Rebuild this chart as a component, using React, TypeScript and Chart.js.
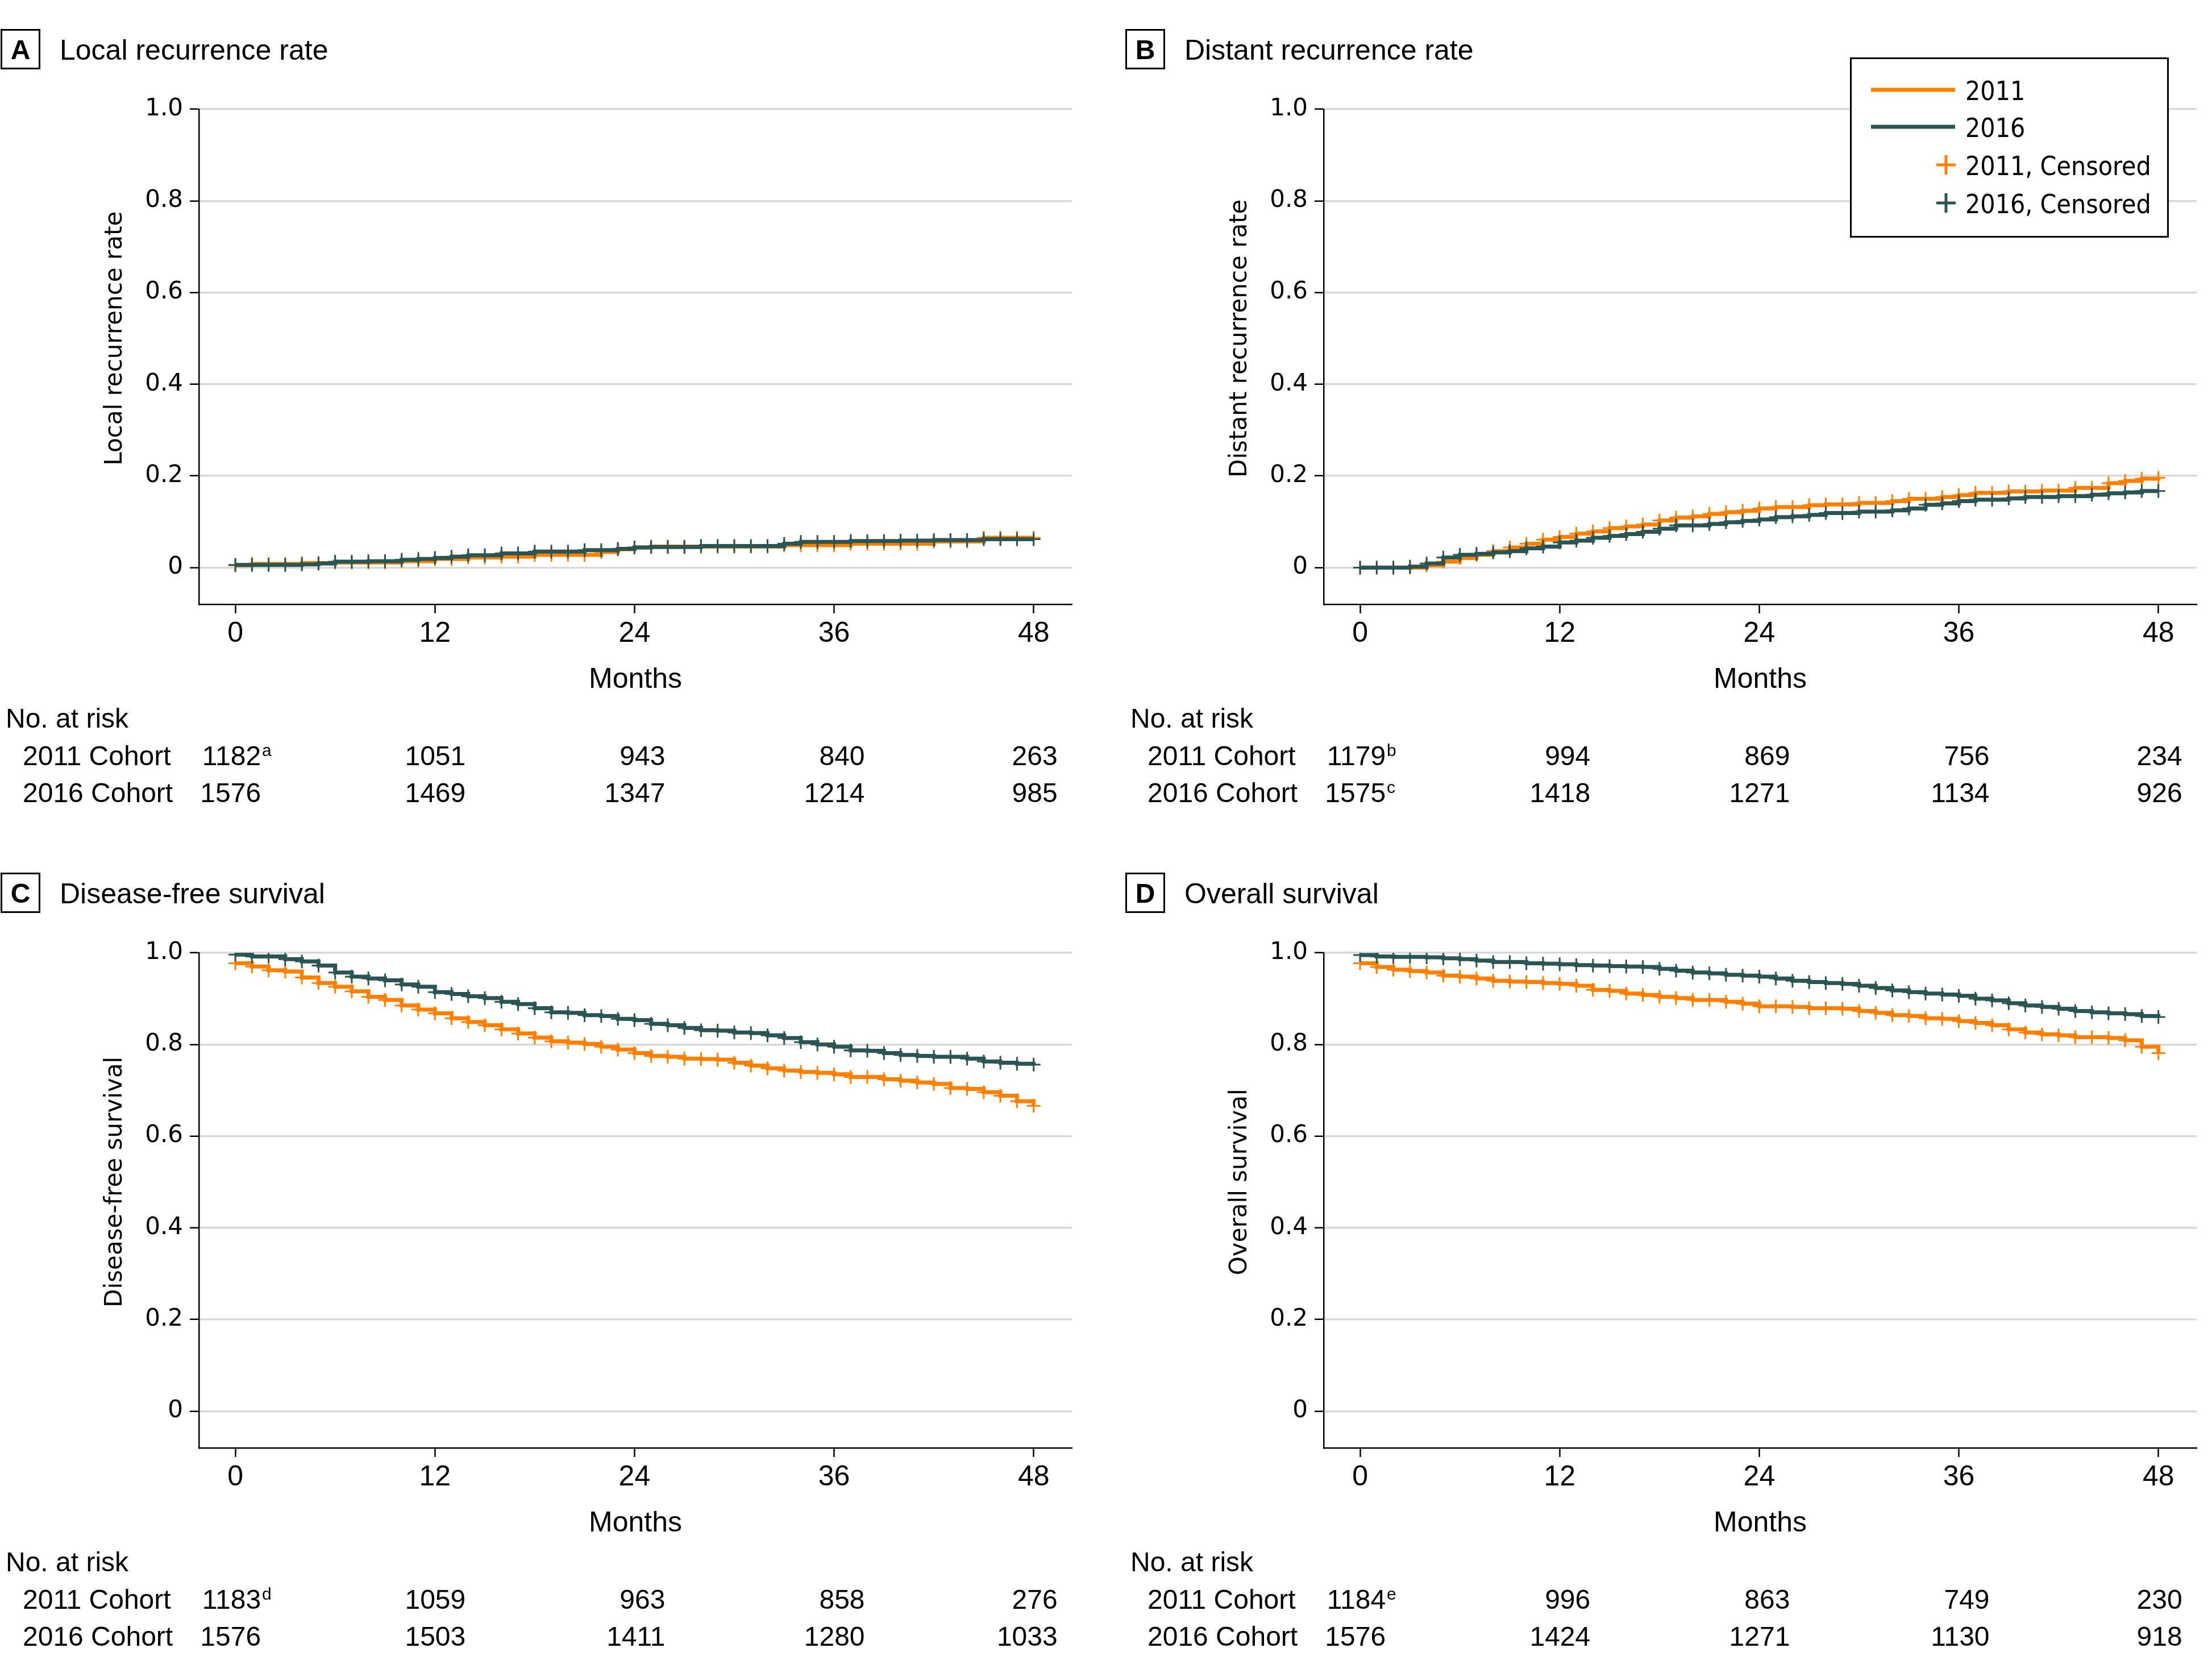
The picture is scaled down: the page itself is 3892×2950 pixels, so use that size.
import React, { useEffect, useRef } from "react";
import { Chart, registerables } from "chart.js";

Chart.register(...registerables);

// ---------- data ----------
const MONTHS = [
  0, 1, 2, 3, 4, 5, 6, 7, 8, 9, 10, 11, 12, 13, 14, 15, 16, 17, 18, 19, 20, 21, 22, 23, 24,
  25, 26, 27, 28, 29, 30, 31, 32, 33, 34, 35, 36, 37, 38, 39, 40, 41, 42, 43, 44, 45, 46, 47, 48,
];
const CENSOR_MONTHS = [
  0, 1, 2, 3, 4, 5, 6, 7, 8, 9, 10, 11, 12, 13, 14, 15, 16, 17, 18, 19, 20, 21, 22, 23, 24,
  25, 26, 27, 28, 29, 30, 31, 32, 33, 34, 35, 36, 37, 38, 39, 40, 41, 42, 43, 44, 45, 46, 47, 48,
];
const X_TICKS = [0, 12, 24, 36, 48];
const Y_TICKS = [0, 0.2, 0.4, 0.6, 0.8, 1.0];
const LEGEND_LABELS = ["2011", "2016", "2011, Censored", "2016, Censored"];
const ROW_LABELS = ["2011 Cohort", "2016 Cohort"];

// A. Local recurrence rate
const LOCAL_2011 = [
  0.005, 0.008, 0.008, 0.008, 0.010, 0.010, 0.011, 0.011, 0.011, 0.011, 0.014, 0.014, 0.019,
  0.019, 0.022, 0.022, 0.024, 0.024, 0.028, 0.028, 0.028, 0.028, 0.034, 0.040, 0.044, 0.046,
  0.046, 0.046, 0.046, 0.046, 0.046, 0.046, 0.046, 0.049, 0.049, 0.049, 0.049, 0.052, 0.052,
  0.052, 0.052, 0.052, 0.057, 0.057, 0.057, 0.065, 0.065, 0.065, 0.065,
];
const LOCAL_2016 = [
  0.006, 0.006, 0.006, 0.006, 0.007, 0.009, 0.013, 0.013, 0.014, 0.014, 0.017, 0.019, 0.021,
  0.024, 0.027, 0.027, 0.031, 0.031, 0.035, 0.035, 0.035, 0.038, 0.038, 0.041, 0.044, 0.045,
  0.045, 0.045, 0.047, 0.047, 0.047, 0.047, 0.047, 0.052, 0.056, 0.056, 0.056, 0.058, 0.058,
  0.058, 0.059, 0.059, 0.060, 0.060, 0.060, 0.062, 0.062, 0.062, 0.062,
];
// B. Distant recurrence rate
const DISTANT_2011 = [
  0, 0, 0, 0, 0.005, 0.013, 0.021, 0.028, 0.036, 0.044, 0.052, 0.061, 0.067, 0.074, 0.079,
  0.086, 0.090, 0.094, 0.103, 0.109, 0.112, 0.117, 0.121, 0.124, 0.129, 0.132, 0.132, 0.136,
  0.138, 0.138, 0.141, 0.141, 0.145, 0.150, 0.150, 0.154, 0.158, 0.163, 0.163, 0.166, 0.166,
  0.168, 0.168, 0.174, 0.174, 0.184, 0.189, 0.194, 0.196,
];
const DISTANT_2016 = [
  0, 0, 0, 0.002, 0.009, 0.022, 0.028, 0.030, 0.033, 0.036, 0.042, 0.046, 0.055, 0.059, 0.065,
  0.069, 0.073, 0.078, 0.085, 0.092, 0.092, 0.095, 0.099, 0.102, 0.105, 0.110, 0.112, 0.115,
  0.119, 0.119, 0.122, 0.122, 0.125, 0.129, 0.137, 0.140, 0.145, 0.148, 0.148, 0.151, 0.154,
  0.154, 0.156, 0.156, 0.159, 0.162, 0.164, 0.167, 0.167,
];
// C. Disease-free survival
const DFS_2011 = [
  0.977, 0.970, 0.962, 0.959, 0.946, 0.934, 0.926, 0.916, 0.904, 0.897, 0.885, 0.876, 0.868,
  0.857, 0.849, 0.842, 0.833, 0.824, 0.815, 0.807, 0.804, 0.801, 0.795, 0.789, 0.781, 0.775,
  0.773, 0.769, 0.768, 0.767, 0.760, 0.754, 0.748, 0.743, 0.740, 0.738, 0.735, 0.729, 0.729,
  0.724, 0.721, 0.717, 0.714, 0.705, 0.703, 0.696, 0.688, 0.676, 0.666,
];
const DFS_2016 = [
  0.996, 0.992, 0.992, 0.986, 0.981, 0.972, 0.957, 0.948, 0.944, 0.940, 0.931, 0.926, 0.914,
  0.910, 0.905, 0.901, 0.893, 0.888, 0.879, 0.870, 0.869, 0.864, 0.862, 0.856, 0.853, 0.845,
  0.842, 0.836, 0.831, 0.830, 0.826, 0.825, 0.820, 0.814, 0.805, 0.800, 0.795, 0.787, 0.786,
  0.781, 0.777, 0.775, 0.773, 0.773, 0.769, 0.763, 0.760, 0.758, 0.756,
];
// D. Overall survival
const OS_2011 = [
  0.977, 0.969, 0.963, 0.960, 0.957, 0.950, 0.948, 0.944, 0.939, 0.937, 0.936, 0.934, 0.932,
  0.928, 0.919, 0.917, 0.911, 0.908, 0.904, 0.901, 0.897, 0.897, 0.893, 0.889, 0.883, 0.883,
  0.882, 0.879, 0.879, 0.878, 0.873, 0.869, 0.864, 0.862, 0.857, 0.856, 0.851, 0.847, 0.842,
  0.833, 0.826, 0.822, 0.820, 0.816, 0.816, 0.814, 0.809, 0.795, 0.781,
];
const OS_2016 = [
  0.995, 0.992, 0.991, 0.991, 0.990, 0.988, 0.986, 0.983, 0.980, 0.980, 0.977, 0.976, 0.975,
  0.973, 0.972, 0.971, 0.970, 0.969, 0.965, 0.961, 0.957, 0.955, 0.952, 0.950, 0.948, 0.944,
  0.939, 0.936, 0.934, 0.932, 0.928, 0.923, 0.918, 0.914, 0.911, 0.909, 0.906, 0.900, 0.896,
  0.890, 0.885, 0.882, 0.878, 0.873, 0.870, 0.868, 0.866, 0.862, 0.860,
];

// Numbers at risk (at X_TICKS)
const RISK_LOCAL_2011 = ["1182", "1051", "943", "840", "263"];
const RISK_LOCAL_2016 = ["1576", "1469", "1347", "1214", "985"];
const RISK_DISTANT_2011 = ["1179", "994", "869", "756", "234"];
const RISK_DISTANT_2016 = ["1575", "1418", "1271", "1134", "926"];
const RISK_DFS_2011 = ["1183", "1059", "963", "858", "276"];
const RISK_DFS_2016 = ["1576", "1503", "1411", "1280", "1033"];
const RISK_OS_2011 = ["1184", "996", "863", "749", "230"];
const RISK_OS_2016 = ["1576", "1424", "1271", "1130", "918"];

// ---------- styling ----------
const COLOR_2011 = "#ff8000";
const COLOR_2016 = "#2a5552";
const GRID = "#d9d9d9";
const SANS = "'Liberation Sans', Arial, sans-serif";
const DEJAVU = "'DejaVu Sans', sans-serif";
const DEJAVU_COND = "'DejaVu Sans Condensed', 'DejaVu Sans', sans-serif";

const W = 1913;
const H = 1466;
const RISK_OFFSETS = [45, 54, 54, 54, 42];

type PanelCfg = {
  letter: string;
  title: string;
  yTitle: string;
  s2011: number[];
  s2016: number[];
  r2011: string[];
  r2016: string[];
  n2011: string;
  n2016: string;
  legend: boolean;
  left: number;
  top: number;
};

const PANELS: PanelCfg[] = [
  { letter: "A", title: "Local recurrence rate", yTitle: "Local recurrence rate", s2011: LOCAL_2011, s2016: LOCAL_2016, r2011: RISK_LOCAL_2011, r2016: RISK_LOCAL_2016, n2011: "a", n2016: "", legend: false, left: 0, top: 0 },
  { letter: "B", title: "Distant recurrence rate", yTitle: "Distant recurrence rate", s2011: DISTANT_2011, s2016: DISTANT_2016, r2011: RISK_DISTANT_2011, r2016: RISK_DISTANT_2016, n2011: "b", n2016: "c", legend: true, left: 1979, top: 0 },
  { letter: "C", title: "Disease-free survival", yTitle: "Disease-free survival", s2011: DFS_2011, s2016: DFS_2016, r2011: RISK_DFS_2011, r2016: RISK_DFS_2016, n2011: "d", n2016: "", legend: false, left: 0, top: 1484 },
  { letter: "D", title: "Overall survival", yTitle: "Overall survival", s2011: OS_2011, s2016: OS_2016, r2011: RISK_OS_2011, r2016: RISK_OS_2016, n2011: "e", n2016: "", legend: false, left: 1979, top: 1484 },
];

function lineDs(vals: number[], color: string, order: number, label: string) {
  return {
    label,
    data: MONTHS.map((m, i) => ({ x: m, y: vals[i] })),
    borderColor: color,
    backgroundColor: color,
    borderWidth: 7,
    stepped: true,
    pointRadius: 0,
    fill: false,
    order,
    borderCapStyle: "butt",
    borderJoinStyle: "miter",
  };
}

function markDs(vals: number[], color: string, order: number, label: string) {
  return {
    label,
    data: CENSOR_MONTHS.map((m) => ({ x: m, y: vals[MONTHS.indexOf(m)] })),
    showLine: false,
    pointStyle: "cross",
    pointRadius: 12,
    pointHoverRadius: 12,
    pointBorderWidth: 3,
    pointBorderColor: color,
    pointBackgroundColor: color,
    borderColor: color,
    backgroundColor: color,
    order,
  };
}

function makeDecor(p: PanelCfg) {
  return {
    id: "decor" + p.letter,
    afterDraw(chart: any) {
      const ctx: CanvasRenderingContext2D = chart.ctx;
      const xs = chart.scales.x;
      const ys = chart.scales.y;
      ctx.save();
      ctx.fillStyle = "#000";
      ctx.strokeStyle = "#000";

      // panel header
      ctx.lineWidth = 3;
      ctx.strokeRect(2.5, 52.5, 67, 68);
      ctx.font = `bold 48px ${SANS}`;
      ctx.textAlign = "center";
      ctx.textBaseline = "alphabetic";
      ctx.fillText(p.letter, 36, 104);
      ctx.font = `50px ${SANS}`;
      ctx.textAlign = "left";
      ctx.fillText(p.title, 105, 105);

      // y-axis title
      ctx.save();
      ctx.translate(203, (ys.getPixelForValue(0) + ys.getPixelForValue(1)) / 2);
      ctx.rotate(-Math.PI / 2);
      ctx.font = `42px ${DEJAVU}`;
      ctx.textAlign = "center";
      ctx.textBaseline = "middle";
      ctx.fillText(p.yTitle, 0, 0);
      ctx.restore();

      // numbers at risk
      ctx.font = `48px ${SANS}`;
      ctx.textAlign = "left";
      ctx.textBaseline = "alphabetic";
      ctx.fillText("No. at risk", 10, 1280);
      const rowsY = [1346, 1411];
      ctx.fillText(ROW_LABELS[0], 40, rowsY[0]);
      ctx.fillText(ROW_LABELS[1], 40, rowsY[1]);
      const rows = [p.r2011, p.r2016];
      const notes = [p.n2011, p.n2016];
      rows.forEach((row, ri) => {
        row.forEach((txt, ci) => {
          const xr = xs.getPixelForValue(X_TICKS[ci]) + RISK_OFFSETS[ci];
          ctx.font = `48px ${SANS}`;
          ctx.textAlign = "right";
          ctx.fillText(txt, xr, rowsY[ri]);
          if (ci === 0 && notes[ri]) {
            ctx.font = `30px ${SANS}`;
            ctx.textAlign = "left";
            ctx.fillText(notes[ri], xr + 2, rowsY[ri] - 16);
          }
        });
      });

      // legend
      if (p.legend) {
        ctx.fillStyle = "#fff";
        ctx.fillRect(1277, 102, 559, 315);
        ctx.lineWidth = 3;
        ctx.strokeStyle = "#000";
        ctx.strokeRect(1277.5, 102.5, 558, 314);
        ctx.font = `46px ${DEJAVU_COND}`;
        ctx.textAlign = "left";
        ctx.textBaseline = "alphabetic";
        const cy = [158, 223, 290, 357];
        const cols = [COLOR_2011, COLOR_2016, COLOR_2011, COLOR_2016];
        for (let i = 0; i < 4; i++) {
          ctx.strokeStyle = cols[i];
          if (i < 2) {
            ctx.lineWidth = 7;
            ctx.beginPath();
            ctx.moveTo(1313, cy[i]);
            ctx.lineTo(1461, cy[i]);
            ctx.stroke();
          } else {
            ctx.lineWidth = 5;
            ctx.beginPath();
            ctx.moveTo(1428, cy[i]);
            ctx.lineTo(1462, cy[i]);
            ctx.moveTo(1445, cy[i] - 17);
            ctx.lineTo(1445, cy[i] + 17);
            ctx.stroke();
          }
          ctx.fillStyle = "#000";
          ctx.fillText(LEGEND_LABELS[i], 1479, cy[i] + 18);
        }
      }
      ctx.restore();
    },
  };
}

function Panel({ p }: { p: PanelCfg }) {
  const ref = useRef<HTMLCanvasElement>(null);
  useEffect(() => {
    if (!ref.current) return;
    const chart = new Chart(ref.current, {
      type: "line",
      data: {
        datasets: [
          lineDs(p.s2011, COLOR_2011, 4, "2011"),
          markDs(p.s2011, COLOR_2011, 3, "2011, Censored"),
          lineDs(p.s2016, COLOR_2016, 2, "2016"),
          markDs(p.s2016, COLOR_2016, 1, "2016, Censored"),
        ] as any,
      },
      options: {
        animation: false,
        responsive: false,
        devicePixelRatio: 1,
        events: [],
        layout: { padding: { left: 0, right: 27, top: 192, bottom: 240 } },
        plugins: { legend: { display: false }, tooltip: { enabled: false } },
        scales: {
          x: {
            type: "linear",
            min: -2.19,
            max: 50.3,
            afterBuildTicks: (s: any) => {
              s.ticks = X_TICKS.map((v) => ({ value: v }));
            },
            afterFit: (s: any) => {
              s.height = 163;
            },
            grid: {
              drawOnChartArea: false,
              drawTicks: true,
              tickLength: 16,
              tickColor: "#000",
              tickWidth: 2.5,
            },
            border: { display: true, color: "#000", width: 2.5 },
            ticks: {
              font: { family: SANS, size: 50 },
              color: "#000",
              padding: 6,
              maxRotation: 0,
              autoSkip: false,
            },
            title: {
              display: true,
              text: "Months",
              font: { family: SANS, size: 50 },
              color: "#000",
              padding: 0,
            },
          },
          y: {
            type: "linear",
            min: -0.08,
            max: 1.0,
            afterBuildTicks: (s: any) => {
              s.ticks = Y_TICKS.map((v) => ({ value: v }));
            },
            afterFit: (s: any) => {
              s.width = 350;
            },
            grid: {
              color: GRID,
              lineWidth: 3.5,
              drawTicks: true,
              tickLength: 16,
              tickColor: "#000",
              tickWidth: 2.5,
            },
            border: { display: true, color: "#000", width: 2.5 },
            ticks: {
              font: { family: DEJAVU, size: 42 },
              color: "#000",
              padding: 12,
              autoSkip: false,
              callback: (v: any) => (Number(v) === 0 ? "0" : Number(v).toFixed(1)),
            },
          },
        },
      } as any,
      plugins: [makeDecor(p)],
    });
    return () => chart.destroy();
  }, [p]);
  return (
    <canvas
      ref={ref}
      width={W}
      height={H}
      style={{ position: "absolute", left: p.left, top: p.top, width: W, height: H }}
    />
  );
}

export default function App() {
  return (
    <div style={{ position: "absolute", left: 0, top: 0, width: 3892, height: 2950, background: "#fff" }}>
      {PANELS.map((p) => (
        <Panel key={p.letter} p={p} />
      ))}
    </div>
  );
}
